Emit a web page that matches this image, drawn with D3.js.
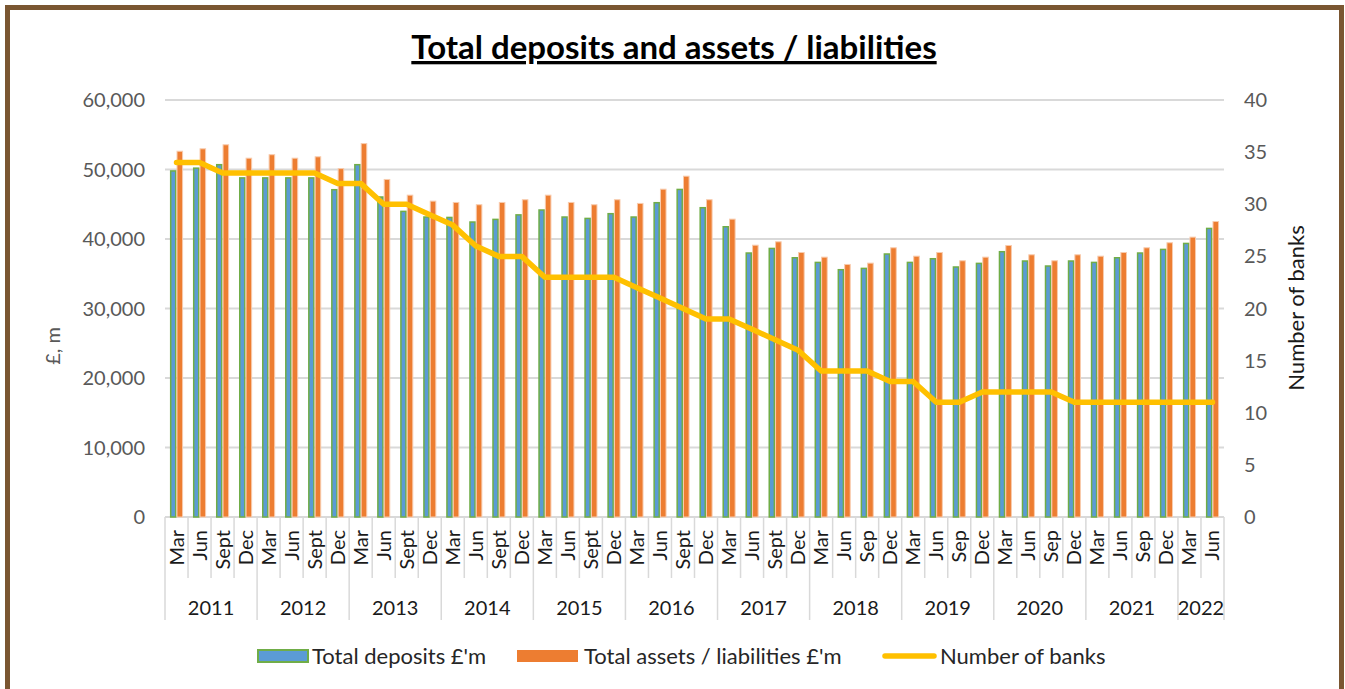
<!DOCTYPE html>
<html lang="en">
<head>
    <meta charset="UTF-8">
    <title>Total deposits and assets / liabilities</title>
    <script src="https://d3js.org/d3.v7.min.js"></script>
    <style>
        body {
            margin: 0;
            background: #fff;
            font-family: Lato, "Open Sans", sans-serif;
        }
        .grid line {
            stroke: #d9d9d9;
            stroke-width: 1.8;
        }
        .tick-label {
            font-size: 20px;
            fill: #595959;
        }
        .cat-label {
            font-size: 20px;
            fill: #1a1a1a;
        }
        .legend-text {
            font-size: 22px;
            fill: #262626;
        }
    </style>
</head>
<body>
    <div id="chart"></div>

    <script>
        // Quarter labels (Mar 2011 .. Jun 2022), 4 per year
        const years = ["2011", "2012", "2013", "2014", "2015", "2016", "2017", "2018", "2019", "2020", "2021", "2022"];
        const quarters = [
            "Mar", "Jun", "Sept", "Dec",
            "Mar", "Jun", "Sept", "Dec",
            "Mar", "Jun", "Sept", "Dec",
            "Mar", "Jun", "Sept", "Dec",
            "Mar", "Jun", "Sept", "Dec",
            "Mar", "Jun", "Sept", "Dec",
            "Mar", "Jun", "Sept", "Dec",
            "Mar", "Jun", "Sep", "Dec",
            "Mar", "Jun", "Sep", "Dec",
            "Mar", "Jun", "Sep", "Dec",
            "Mar", "Jun", "Sep", "Dec",
            "Mar", "Jun"
        ];

        // Series values
        const deposits = [
            49900, 50300, 50800, 48900,
            48900, 48900, 48900, 47200,
            50800, 46150, 44080, 43270,
            43210, 42550, 42930, 43580,
            44280, 43270, 43070, 43750,
            43270, 45330, 47240, 44610,
            41870, 38090, 38750, 37410,
            36740, 35690, 35880, 37950,
            36740, 37270, 36080, 36600,
            38280, 36940, 36220, 36940,
            36740, 37410, 38090, 38610,
            39470, 41630
        ];
        const assets = [
            52700, 53050, 53630, 51700,
            52200, 51700, 51900, 50200,
            53800, 48640, 46380, 45520,
            45330, 45000, 45330, 45720,
            46380, 45330, 45000, 45720,
            45190, 47240, 49110, 45720,
            42930, 39180, 39670, 38130,
            37460, 36410, 36600, 38810,
            37600, 38130, 36940, 37460,
            39140, 37800, 36940, 37800,
            37600, 38130, 38810, 39530,
            40340, 42590
        ];
        const banks = [
            34, 34, 33, 33,
            33, 33, 33, 32,
            32, 30, 30, 29,
            28, 26, 25, 25,
            23, 23, 23, 23,
            22, 21, 20, 19,
            19, 18, 17, 16,
            14, 14, 14, 13,
            13, 11, 11, 12,
            12, 12, 12, 11,
            11, 11, 11, 11,
            11, 11
        ];

        const leftTicks = [0, 10000, 20000, 30000, 40000, 50000, 60000];
        const rightTicks = [0, 5, 10, 15, 20, 25, 30, 35, 40];

        const W = 1345, H = 689;
        const plot = {left: 165, right: 1224, top: 100, bottom: 517};

        const svg = d3.select("#chart")
            .append("svg")
                .attr("width", W)
                .attr("height", H);

        svg.append("rect")
            .attr("width", W)
            .attr("height", H)
            .attr("fill", "#fff");

        // brown frame (no bottom edge visible)
        svg.append("path")
            .attr("d", `M7.5,${H} V7.5 H1341.5 V${H}`)
            .attr("fill", "none")
            .attr("stroke", "#7a5631")
            .attr("stroke-width", 5);

        // Title
        svg.append("text")
            .attr("x", 674)
            .attr("y", 59)
            .attr("text-anchor", "middle")
            .style("font-size", "33px")
            .style("font-weight", "bold")
            .style("text-decoration", "underline")
            .style("fill", "#000")
            .text("Total deposits and assets / liabilities");

        // Scales
        const idx = d3.range(quarters.length);
        const x = d3.scaleBand()
            .domain(idx)
            .range([plot.left, plot.right])
            .paddingInner(0.4286)
            .paddingOuter(0.2143);
        const xSub = d3.scaleBand()
            .domain(["deposits", "assets"])
            .range([0, x.bandwidth()]);
        const step = x.step();
        const catLeft = i => plot.left + i * step;

        const y = d3.scaleLinear().domain([0, 60000]).range([plot.bottom, plot.top]);
        const y2 = d3.scaleLinear().domain([0, 40]).range([plot.bottom, plot.top]);

        // Gridlines
        const grid = svg.append("g").attr("class", "grid");
        grid.selectAll("line")
            .data(leftTicks)
            .join("line")
                .attr("x1", plot.left)
                .attr("x2", plot.right)
                .attr("y1", d => y(d))
                .attr("y2", d => y(d));

        // Left axis labels
        svg.append("g")
            .selectAll("text")
            .data(leftTicks)
            .join("text")
                .attr("class", "tick-label")
                .attr("x", 145)
                .attr("y", d => y(d) + 7)
                .attr("text-anchor", "end")
                .text(d => d3.format(",")(d));

        // Right axis labels
        svg.append("g")
            .selectAll("text")
            .data(rightTicks)
            .join("text")
                .attr("class", "tick-label")
                .attr("x", 1244)
                .attr("y", d => y2(d) + 7)
                .attr("text-anchor", "start")
                .text(d => d);

        // Axis titles
        svg.append("text")
            .attr("class", "tick-label")
            .attr("transform", "translate(60,346) rotate(-90)")
            .attr("text-anchor", "middle")
            .text("£, m");

        svg.append("text")
            .attr("transform", "translate(1304,308) rotate(-90)")
            .attr("text-anchor", "middle")
            .style("font-size", "22px")
            .style("fill", "#1a1a1a")
            .text("Number of banks");

        // Bars
        const bars = svg.append("g");
        bars.selectAll(".dep")
            .data(deposits)
            .join("rect")
                .attr("class", "dep")
                .attr("x", (d, i) => x(i) + xSub("deposits") + 0.75)
                .attr("y", d => y(d) + 0.75)
                .attr("width", xSub.bandwidth() - 1.5)
                .attr("height", d => plot.bottom - y(d) - 0.75)
                .attr("fill", "#5b9bd5")
                .attr("stroke", "#70ad47")
                .attr("stroke-width", 1.5);

        bars.selectAll(".ast")
            .data(assets)
            .join("rect")
                .attr("class", "ast")
                .attr("x", (d, i) => x(i) + xSub("assets") + 0.5)
                .attr("y", d => y(d) + 0.5)
                .attr("width", xSub.bandwidth() - 1)
                .attr("height", d => plot.bottom - y(d) - 0.5)
                .attr("fill", "#ed7d31")
                .attr("stroke", "#f8cbad")
                .attr("stroke-width", 1);

        // Number of banks line
        const line = d3.line()
            .x((d, i) => x(i) + x.bandwidth() / 2)
            .y(d => y2(d));

        svg.append("path")
            .datum(banks)
            .attr("d", line)
            .attr("fill", "none")
            .attr("stroke", "#ffc000")
            .attr("stroke-width", 5.5)
            .attr("stroke-linejoin", "round")
            .attr("stroke-linecap", "round");

        // Category axis: quarter separators and labels
        const cat = svg.append("g");
        cat.selectAll(".qsep")
            .data(d3.range(quarters.length + 1))
            .join("line")
                .attr("class", "qsep")
                .attr("x1", i => catLeft(i))
                .attr("x2", i => catLeft(i))
                .attr("y1", plot.bottom)
                .attr("y2", i => (i % 4 === 0 || i === quarters.length) ? 620 : 578)
                .attr("stroke", "#d9d9d9")
                .attr("stroke-width", 1.5);

        cat.selectAll(".qlab")
            .data(quarters)
            .join("text")
                .attr("class", "cat-label")
                .attr("text-anchor", "end")
                .attr("transform", (d, i) => `translate(${catLeft(i) + step / 2 + 7},530) rotate(-90)`)
                .text(d => d);

        cat.selectAll(".ylab")
            .data(years)
            .join("text")
                .attr("class", "cat-label")
                .attr("text-anchor", "middle")
                .attr("x", (d, i) => {
                    const first = i * 4;
                    const last = Math.min(first + 4, quarters.length);
                    return (catLeft(first) + catLeft(last)) / 2;
                })
                .attr("y", 615)
                .text(d => d);

        // Legend
        const legend = svg.append("g");
        legend.append("rect")
            .attr("x", 258).attr("y", 650)
            .attr("width", 50).attr("height", 12)
            .attr("fill", "#5b9bd5")
            .attr("stroke", "#70ad47")
            .attr("stroke-width", 2);
        legend.append("text")
            .attr("class", "legend-text")
            .attr("x", 312).attr("y", 664)
            .text("Total deposits £'m");

        legend.append("rect")
            .attr("x", 517).attr("y", 650)
            .attr("width", 61).attr("height", 12)
            .attr("fill", "#ed7d31");
        legend.append("text")
            .attr("class", "legend-text")
            .attr("x", 584).attr("y", 664)
            .text("Total assets / liabilities £'m");

        legend.append("line")
            .attr("x1", 885).attr("x2", 934)
            .attr("y1", 656).attr("y2", 656)
            .attr("stroke", "#ffc000")
            .attr("stroke-width", 5.5)
            .attr("stroke-linecap", "round");
        legend.append("text")
            .attr("class", "legend-text")
            .attr("x", 940).attr("y", 664)
            .text("Number of banks");
    </script>
</body>
</html>
